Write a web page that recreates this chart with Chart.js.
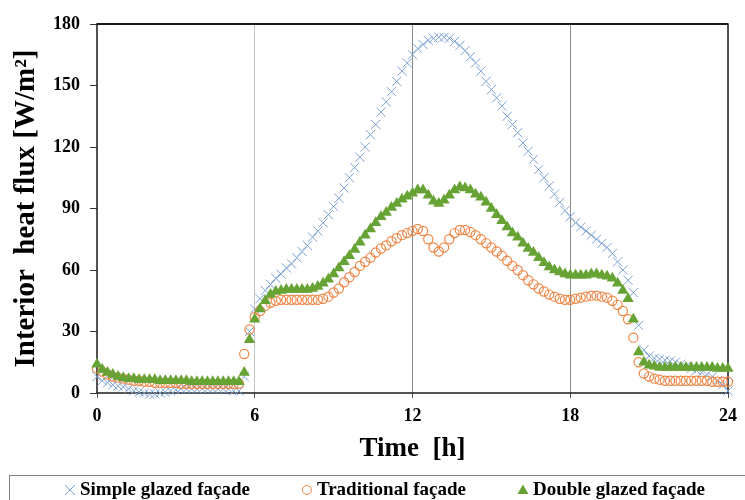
<!DOCTYPE html>
<html lang="en">
<head>
<meta charset="UTF-8">
<title>Interior heat flux</title>
<script src="https://cdn.jsdelivr.net/npm/chart.js"></script>
<style>
    * { margin: 0; padding: 0; box-sizing: border-box; }
    body { background: #fff; width: 745px; height: 500px; overflow: hidden; }
    canvas { display: block; }
</style>
</head>
<body>
<canvas id="fluxChart" width="745" height="500"></canvas>
<script>
// time of day [h], one reading every 12 min
const hours = [
    0, 0.2, 0.4, 0.6, 0.8, 1, 1.2, 1.4, 1.6, 1.8,
    2, 2.2, 2.4, 2.6, 2.8, 3, 3.2, 3.4, 3.6, 3.8,
    4, 4.2, 4.4, 4.6, 4.8, 5, 5.2, 5.4, 5.6, 5.8,
    6, 6.2, 6.4, 6.6, 6.8, 7, 7.2, 7.4, 7.6, 7.8,
    8, 8.2, 8.4, 8.6, 8.8, 9, 9.2, 9.4, 9.6, 9.8,
    10, 10.2, 10.4, 10.6, 10.8, 11, 11.2, 11.4, 11.6, 11.8,
    12, 12.2, 12.4, 12.6, 12.8, 13, 13.2, 13.4, 13.6, 13.8,
    14, 14.2, 14.4, 14.6, 14.8, 15, 15.2, 15.4, 15.6, 15.8,
    16, 16.2, 16.4, 16.6, 16.8, 17, 17.2, 17.4, 17.6, 17.8,
    18, 18.2, 18.4, 18.6, 18.8, 19, 19.2, 19.4, 19.6, 19.8,
    20, 20.2, 20.4, 20.6, 20.8, 21, 21.2, 21.4, 21.6, 21.8,
    22, 22.2, 22.4, 22.6, 22.8, 23, 23.2, 23.4, 23.6, 23.8,
    24
];

// interior heat flux [W/m2]
const simpleGlazed = [
    8, 6, 5, 4, 3.5, 3, 2, 1, 0.5, 0,
    -0.5, -0.5, 0, 0.5, 1, 1.5, 2, 2, 2, 2,
    2, 2, 2, 2, 2, 2, 1, 1, 8, 30,
    41, 46, 50, 53, 56, 58, 61, 63, 66, 69,
    72, 76, 79, 83, 87, 91, 95, 100, 105, 110,
    115, 120, 126, 131, 137, 142, 147, 152, 157, 161,
    165, 168, 170, 172, 173, 173.5, 173.5, 173, 171.5, 169.5,
    167, 164, 161, 157, 152, 148, 144, 140, 135, 131,
    127, 122, 118, 114, 109, 105, 101, 97, 93, 89,
    86, 83, 81, 79, 77, 75, 73, 71, 68, 64,
    60, 55, 49, 33, 21, 18, 17, 16.5, 16, 15.5,
    15, 14, 13, 12, 11, 10, 9, 8, 6, 4,
    1
];

const traditional = [
    12, 10.5, 9, 8, 7.5, 7, 6.5, 6, 6, 5.5,
    5.5, 5, 5, 5, 5, 5, 4.5, 4.5, 4.5, 4.5,
    4.5, 4.5, 4.5, 4.5, 4.5, 4.5, 4.5, 4.5, 19, 31,
    37, 40, 42.5, 44, 45, 45.5, 45.5, 45.5, 45.5, 45.5,
    45.5, 45.5, 45.5, 46, 47, 49, 51, 54, 56.5, 59,
    62, 64, 66, 68.5, 70.5, 72, 74, 75.5, 77, 78,
    79, 80, 79, 75, 71, 69, 71, 75, 78, 79.5,
    79.5, 78.5, 77, 75, 73, 71, 69, 67, 64.5, 62,
    60, 57.5, 55, 53, 51, 49.5, 48, 47, 46, 45.5,
    45.5, 46, 46.5, 47, 47.5, 47.5, 47, 46.5, 45, 43,
    40, 36, 27, 15, 9.5, 8, 7, 6.5, 6, 6,
    6, 6, 6, 6, 6, 6, 6, 5.5, 5.5, 5.5,
    5.5
];

const doubleGlazed = [
    14, 11.5, 10, 9, 8, 7.5, 7, 7, 6.5, 6.5,
    6.5, 6.5, 6, 6, 6, 6, 6, 6, 5.5, 5.5,
    5.5, 5.5, 5.5, 5.5, 5.5, 5.5, 5.5, 5.5, 10, 26,
    36, 41, 45, 48, 49.5, 50, 50.5, 50.5, 50.5, 50.5,
    50.5, 51, 52, 53.5, 55.5, 58, 61, 64, 67, 70,
    73.5, 77, 80, 83, 86, 88, 90.5, 92.5, 94.5, 96,
    97.5, 99, 99, 96.5, 93.5, 92.5, 94, 96.5, 99, 100.5,
    100, 99, 97, 95.5, 93, 90, 87, 84, 81, 78,
    76, 73, 70.5, 68.5, 66, 63.5, 61.5, 60, 59, 58,
    57.5, 57.5, 57.5, 57.5, 58, 58, 57.5, 57, 56, 53.5,
    50, 46, 36, 20, 15, 13.5, 13, 12.5, 12.5, 12.5,
    12.5, 12.5, 12.5, 12.5, 12.5, 12.5, 12.5, 12.5, 12, 12,
    12
];

const seriesNames = ['Simple glazed façade', 'Traditional façade', 'Double glazed façade'];
const xTicks = [0, 6, 12, 18, 24];
const yTicks = [0, 30, 60, 90, 120, 150, 180];

const serif = "'Liberation Serif', 'Times New Roman', serif";
const blue = '#7AA2D4';
const orange = '#EF8544';
const green = '#66A334';

const toPoints = vals => hours.map((h, i) => ({ x: h, y: vals[i] }));

// black frame round the plot area
const framePlugin = {
    id: 'frame',
    beforeDatasetsDraw(chart) {
        const { ctx, chartArea: a } = chart;
        ctx.save();
        ctx.strokeStyle = '#1a1a1a';
        ctx.lineWidth = 1.5;
        ctx.strokeRect(a.left, a.top, a.right - a.left, a.bottom - a.top);
        ctx.lineWidth = 2;
        ctx.beginPath();
        ctx.moveTo(a.left, a.top);
        ctx.lineTo(a.right, a.top);
        ctx.stroke();
        ctx.restore();
    }
};

// boxed legend along the bottom edge
const legendPlugin = {
    id: 'boxLegend',
    afterDraw(chart) {
        const { ctx } = chart;
        ctx.save();
        ctx.strokeStyle = '#808080';
        ctx.lineWidth = 1;
        ctx.strokeRect(9.5, 475.5, 800, 60);
        ctx.font = 'bold 19px ' + serif;
        ctx.textBaseline = 'middle';
        ctx.textAlign = 'left';
        const y = 490;
        let x = 66;
        chart.data.datasets.forEach((ds, i) => {
            const cx = x + 4;
            ctx.lineWidth = 1;
            ctx.strokeStyle = ds.borderColor;
            ctx.fillStyle = ds.backgroundColor;
            ctx.beginPath();
            if (ds.pointStyle === 'crossRot') {
                ctx.moveTo(cx - 5, y - 5); ctx.lineTo(cx + 5, y + 5);
                ctx.moveTo(cx - 5, y + 5); ctx.lineTo(cx + 5, y - 5);
                ctx.stroke();
            } else if (ds.pointStyle === 'circle') {
                ctx.arc(cx, y, 4.5, 0, Math.PI * 2);
                ctx.stroke();
            } else {
                ctx.moveTo(cx, y - 5.5);
                ctx.lineTo(cx + 5.5, y + 4);
                ctx.lineTo(cx - 5.5, y + 4);
                ctx.closePath();
                ctx.fill();
            }
            ctx.fillStyle = '#000';
            ctx.fillText(seriesNames[i], x + 14, y);
            x += 14 + ctx.measureText(seriesNames[i]).width + 53;
        });
        ctx.restore();
    }
};

new Chart(document.getElementById('fluxChart'), {
    type: 'scatter',
    data: {
        datasets: [{
            label: seriesNames[0],
            data: toPoints(simpleGlazed),
            pointStyle: 'crossRot',
            pointRadius: 6.5,
            pointBorderWidth: 1,
            borderColor: blue,
            backgroundColor: blue,
            order: 2,
            clip: false
        }, {
            label: seriesNames[1],
            data: toPoints(traditional),
            pointStyle: 'circle',
            pointRadius: 4.6,
            pointBorderWidth: 1.2,
            borderColor: orange,
            backgroundColor: 'rgba(0,0,0,0)',
            order: 1,
            clip: false
        }, {
            label: seriesNames[2],
            data: toPoints(doubleGlazed),
            pointStyle: 'triangle',
            pointRadius: 6.5,
            pointBorderWidth: 0,
            borderColor: green,
            backgroundColor: green,
            order: 0,
            clip: false
        }]
    },
    options: {
        responsive: false,
        animation: false,
        layout: { padding: { left: 0, top: 24, right: 17, bottom: 0 } },
        plugins: {
            legend: { display: false },
            tooltip: { enabled: false }
        },
        scales: {
            x: {
                type: 'linear',
                min: 0,
                max: 24,
                afterBuildTicks: s => { s.ticks = xTicks.map(v => ({ value: v })); },
                afterFit: s => { s.height = 107; },
                border: { display: false },
                grid: {
                    color: c => (c.tick && (c.tick.value === 0 || c.tick.value === 24)) ? 'rgba(0,0,0,0)'
                        : (c.tick && c.tick.value === 6 ? '#c4c4c4' : '#8c8c8c'),
                    tickColor: '#555',
                    tickLength: 5,
                    lineWidth: 1
                },
                ticks: {
                    color: '#000',
                    padding: 8,
                    maxRotation: 0,
                    font: { family: serif, size: 18, weight: 'bold' }
                },
                title: {
                    display: true,
                    text: 'Time  [h]',
                    color: '#000',
                    font: { family: serif, size: 27, weight: 'bold' },
                    padding: { top: 4, bottom: 35 }
                }
            },
            y: {
                min: 0,
                max: 180,
                afterBuildTicks: s => { s.ticks = yTicks.map(v => ({ value: v })); },
                afterFit: s => { s.width = 97; },
                border: { display: false },
                grid: {
                    drawOnChartArea: false,
                    tickColor: '#333',
                    tickLength: 7
                },
                ticks: {
                    color: '#000',
                    padding: 10,
                    font: { family: serif, size: 18, weight: 'bold' }
                },
                title: {
                    display: true,
                    text: 'Interior  heat flux [W/m²]',
                    color: '#000',
                    font: { family: serif, size: 29, weight: 'bold' },
                    padding: { top: 9, bottom: 0 }
                }
            }
        }
    },
    plugins: [framePlugin, legendPlugin]
});
</script>
</body>
</html>
